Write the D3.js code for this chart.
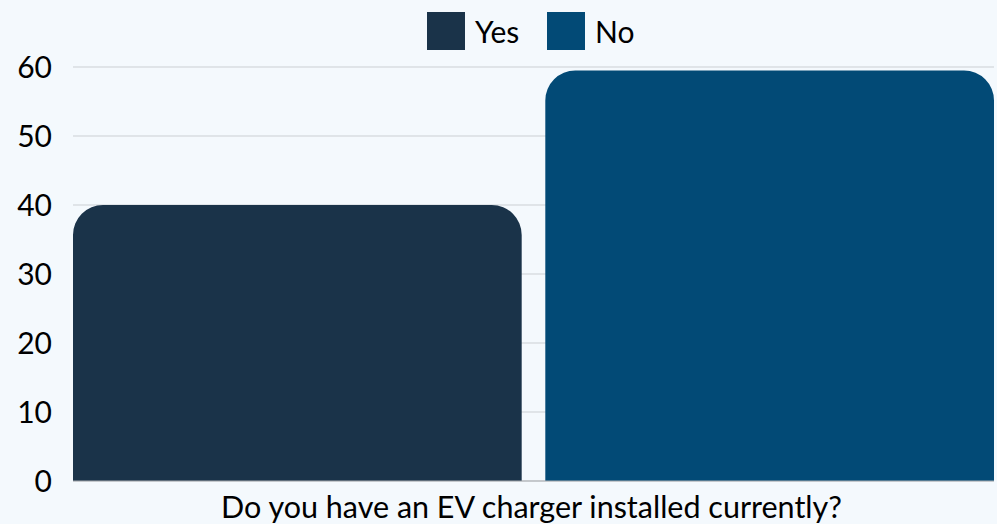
<!DOCTYPE html>
<html>
<head>
<meta charset="utf-8">
<script src="https://cdn.jsdelivr.net/npm/d3@7"></script>
<style>
  body { margin: 0; background: #f4f9fd; }
  svg { display: block; font-family: Lato, "Open Sans", sans-serif; }
</style>
</head>
<body>
<svg id="ch" width="997" height="524"></svg>
<script>
// data
var categories = ["Do you have an EV charger installed currently?"];
var seriesNames = ["Yes", "No"];
var seriesValues = [40, 59.5];
var yTicks = [0, 10, 20, 30, 40, 50, 60];
var colors = ["#1a3349", "#024a76"];

var margin = {top: 67, right: 3, bottom: 43, left: 73},
    width  = 997 - margin.left - margin.right,
    height = 524 - margin.top  - margin.bottom;

var svg = d3.select("#ch");
var g = svg.append("g").attr("transform", "translate(" + margin.left + "," + margin.top + ")");

var x0 = d3.scaleBand().domain(categories).range([0, width]).padding(0);
var x1 = d3.scaleBand().domain(seriesNames).range([0, x0.bandwidth()]).paddingInner(0.05).paddingOuter(0);
var y = d3.scaleLinear().domain([0, 60]).range([height, 0]);
var color = d3.scaleOrdinal().domain(seriesNames).range(colors);

// grid
g.selectAll(".grid").data(yTicks).enter().append("line")
    .attr("x1", 0).attr("x2", width)
    .attr("y1", function (d) { return y(d); })
    .attr("y2", function (d) { return y(d); })
    .style("stroke", "#cbcfd3").style("stroke-width", 1);

// y labels
g.selectAll(".ylab").data(yTicks).enter().append("text")
    .attr("x", -21).attr("y", function (d) { return y(d); })
    .attr("dy", "0.36em").attr("text-anchor", "end")
    .style("font-size", "30px").style("fill", "#000")
    .text(function (d) { return d; });

// bars with rounded top corners
var r = 30;
function barPath(x, yTop, w, h) {
    var rr = Math.min(r, w / 2, h);
    return "M" + x + "," + (yTop + h) +
        "V" + (yTop + rr) +
        "A" + rr + "," + rr + " 0 0 1 " + (x + rr) + "," + yTop +
        "H" + (x + w - rr) +
        "A" + rr + "," + rr + " 0 0 1 " + (x + w) + "," + (yTop + rr) +
        "V" + (yTop + h) + "Z";
}
categories.forEach(function (c) {
    seriesNames.forEach(function (s, i) {
        var v = seriesValues[i];
        g.append("path")
            .attr("d", barPath(x0(c) + x1(s), y(v), x1.bandwidth(), y(0) - y(v)))
            .style("fill", color(s));
    });
});

// baseline
g.append("line").attr("x1", 0).attr("x2", width)
    .attr("y1", y(0)).attr("y2", y(0))
    .style("stroke", "#a9adb1").style("stroke-width", 1);

// x label
g.selectAll(".xlab").data(categories).enter().append("text")
    .attr("x", function (d) { return x0(d) + x0.bandwidth() / 2 - 2; })
    .attr("y", height + 37)
    .attr("text-anchor", "middle")
    .style("font-size", "30.5px").style("fill", "#000")
    .text(function (d) { return d; });

// legend
var legend = svg.append("g");
var lx = [427, 547];
seriesNames.forEach(function (s, i) {
    legend.append("rect").attr("x", lx[i]).attr("y", 12).attr("width", 38).attr("height", 38)
        .style("fill", color(s));
    legend.append("text").attr("x", lx[i] + 48).attr("y", 32).attr("dy", "0.36em")
        .style("font-size", "30px").style("fill", "#000").text(s);
});
</script>
</body>
</html>
